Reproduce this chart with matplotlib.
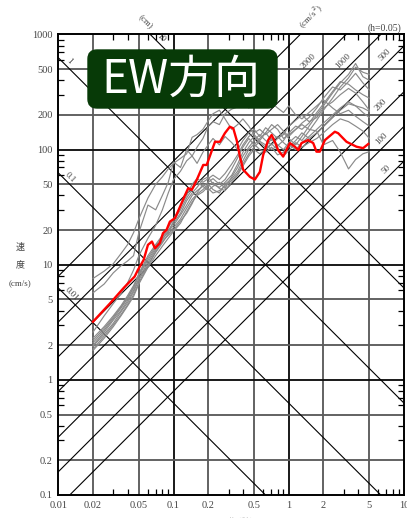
import numpy as np
import matplotlib
matplotlib.use("Agg")
import matplotlib.pyplot as plt
from matplotlib.patches import FancyBboxPatch
from matplotlib.transforms import IdentityTransform

# ---- data -------------------------------------------------------------
# observed record (red), period [s] / pseudo velocity [cm/s]
red_period = [0.020, 0.028, 0.037, 0.046, 0.049, 0.055, 0.060, 0.065, 0.069, 0.076,
              0.081, 0.087, 0.093, 0.103, 0.114, 0.126, 0.134, 0.144, 0.159, 0.181,
              0.194, 0.221, 0.229, 0.253, 0.279, 0.308, 0.330, 0.353, 0.377, 0.402,
              0.460, 0.508, 0.561, 0.600, 0.663, 0.710, 0.757, 0.809, 0.894, 1.023,
              1.13, 1.21, 1.29, 1.47, 1.63, 1.74, 1.86, 2.06, 2.51, 2.68,
              3.17, 3.87, 4.42, 4.90]
red_sv = [3.2, 4.6, 6.3, 7.9, 9.0, 11.0, 14.9, 15.9, 13.9, 15.4,
          18.8, 20.1, 23.7, 25.4, 32.0, 40.4, 46.2, 44.7, 54.6, 73.6,
          73.6, 106, 117, 117, 139, 158, 153, 121, 87, 67,
          58, 55, 64, 90, 121, 134, 117, 99, 87, 114,
          106, 99, 114, 121, 114, 96, 96, 121, 143, 139,
          117, 106, 103, 112]

# comparison records (gray), common period grid
periods = [0.02, 0.025, 0.03, 0.035, 0.04, 0.045, 0.05, 0.06, 0.07, 0.08,
           0.09, 0.10, 0.115, 0.13, 0.145, 0.16, 0.18, 0.20, 0.22, 0.25,
           0.28, 0.32, 0.36, 0.40, 0.45, 0.50, 0.56, 0.63, 0.71, 0.80,
           0.90, 1.0, 1.15, 1.3, 1.5, 1.75, 2.0, 2.4, 2.8, 3.3,
           3.8, 4.4, 5.0]
sv_u1 = [7.6, 8.8, 10.2, 12.5, 15, 19, 25, 38, 50, 58,
         68, 76, 84, 92, 128, 135, 150, 178, 205, 220,
         185, 150, 165, 185, 160, 135, 120, 140, 165, 150,
         125, 135, 150, 165, 150, 145, 110, 120, 95, 68,
         82, 92, 96]
sv_u2 = [5.7, 6.8, 8.5, 9.8, 10.8, 12, 19, 33, 30, 40,
         52, 78, 70, 100, 88, 105, 125, 160, 175, 165,
         205, 225, 235, 260, 230, 250, 270, 240, 255, 230,
         210, 240, 200, 185, 210, 240, 270, 230, 205, 220,
         195, 175, 160]
sv_m1 = [2.6, 3.6, 4.6, 5.6, 7, 9, 12, 17, 22, 30,
         42, 55, 65, 80, 88, 76, 95, 110, 125, 110,
         130, 115, 100, 120, 140, 150, 130, 155, 140, 125,
         135, 160, 180, 200, 175, 190, 230, 260, 300, 340,
         310, 260, 220]
sv_l1 = [2.3, 2.9, 3.6, 4.4, 5.4, 6.6, 8.2, 11.5, 14.5, 17.5,
         20, 23, 28, 36, 42, 47, 55, 58, 50, 47,
         52, 60, 75, 95, 115, 130, 115, 105, 125, 110,
         100, 115, 130, 120, 145, 180, 220, 280, 350, 420,
         520, 470, 450]
sv_l2 = [2.0, 2.6, 3.3, 4.0, 4.9, 6.0, 7.6, 10.5, 13.5, 16.5,
         19.5, 22, 27, 33, 40, 44, 48, 44, 48, 52,
         46, 58, 70, 88, 105, 120, 135, 120, 110, 125,
         140, 125, 110, 130, 160, 200, 240, 310, 380, 450,
         560, 430, 400]
sv_l3 = [1.85, 2.4, 3.0, 3.7, 4.5, 5.5, 7.0, 9.8, 12.8, 15.5,
         18.5, 21, 25, 31, 37, 41, 45, 50, 45, 42,
         50, 56, 65, 80, 100, 112, 100, 95, 105, 90,
         95, 110, 100, 115, 130, 150, 170, 200, 230, 260,
         240, 210, 190]
sv_l4 = [2.1, 2.7, 3.4, 4.2, 5.1, 6.3, 8.0, 11, 14, 17,
         19, 24, 30, 38, 45, 52, 48, 52, 56, 50,
         55, 68, 85, 105, 125, 110, 125, 140, 120, 130,
         115, 105, 120, 140, 125, 140, 160, 190, 220, 250,
         240, 230, 215]
sv_l5 = [1.95, 2.5, 3.1, 3.9, 4.7, 5.8, 7.4, 10, 13, 16,
         18, 20, 24, 28, 34, 42, 50, 46, 42, 44,
         48, 54, 62, 75, 92, 105, 118, 110, 100, 108,
         120, 140, 160, 150, 170, 210, 250, 320, 390, 370,
         330, 300, 280]
sv_l6 = [2.2, 2.8, 3.5, 4.3, 5.2, 6.4, 8.4, 12, 15, 18,
         21, 25, 32, 40, 50, 56, 52, 56, 60, 55,
         62, 75, 90, 110, 130, 140, 150, 135, 150, 165,
         145, 130, 150, 170, 190, 230, 280, 350, 330, 390,
         460, 380, 330]
sv_l7 = [1.8, 2.3, 2.9, 3.6, 4.4, 5.3, 6.8, 9.5, 12, 14.5,
         17, 19.5, 23, 29, 35, 40, 43, 48, 52, 46,
         44, 52, 60, 72, 88, 100, 92, 100, 112, 100,
         88, 98, 115, 105, 115, 125, 140, 165, 185, 175,
         160, 145, 125]

# tripartite reference lines
disp_levels = [0.01, 0.1, 1, 10]                     # cm
acc_levels = [50, 100, 200, 500, 1000, 2000, 5000]   # cm/s^2

x_major = [0.01, 0.02, 0.05, 0.1, 0.2, 0.5, 1, 2, 5, 10]
x_major_labels = ["0.01", "0.02", "0.05", "0.1", "0.2", "0.5", "1", "2", "5", "10"]
y_major = [0.1, 0.2, 0.5, 1, 2, 5, 10, 20, 50, 100, 200, 500, 1000]
y_major_labels = ["0.1", "0.2", "0.5", "1", "2", "5", "10", "20", "50", "100", "200", "500", "1000"]

# ---- figure -----------------------------------------------------------
W, H = 407, 518
fig = plt.figure(figsize=(W / 100, H / 100), dpi=100)
ax = fig.add_axes([58.3 / W, 1 - 495 / H, (404 - 58.3) / W, (495 - 34.5) / H])
ax.set_xscale("log")
ax.set_yscale("log")
ax.set_xlim(0.01, 10)
ax.set_ylim(0.1, 1000)

serif = "Liberation Serif"
lab_col = "#444444"

# grid
for v in x_major[1:-1]:
    dec = abs(np.log10(v) - round(np.log10(v))) < 1e-6
    ax.axvline(v, color="#111111" if dec else "#5c5c5c", lw=1.35, zorder=1)
for v in y_major[1:-1]:
    dec = abs(np.log10(v) - round(np.log10(v))) < 1e-6
    ax.axhline(v, color="#111111" if dec else "#5c5c5c", lw=1.35, zorder=1)

# displacement and acceleration lines
tt = np.array([0.001, 100.0])
for d in disp_levels:
    ax.plot(tt, 2 * np.pi * d / tt, color="black", lw=0.8, zorder=2)
for a in acc_levels:
    ax.plot(tt, a * tt / (2 * np.pi), color="black", lw=0.8, zorder=2)

# line labels
disp_label_t = {0.01: 0.0122, 0.1: 0.0118, 1: 0.0115, 10: 0.072}
for d in disp_levels:
    t = disp_label_t[d]
    ax.annotate(f"{d:g}", xy=(t, 2 * np.pi * d / t), xytext=(3.5, 3.5),
                textcoords="offset pixels", rotation=-45, ha="center", va="center",
                fontsize=6.5, family=serif, color=lab_col, zorder=3,
                annotation_clip=False)
acc_label_t = {50: 7.7, 100: 7.0, 200: 7.0, 500: 7.6, 1000: 3.3, 2000: 1.65, 5000: 0.60}
for a in acc_levels:
    t = acc_label_t[a]
    ax.annotate(f"{a:g}", xy=(t, a * t / (2 * np.pi)), xytext=(-5, 5),
                textcoords="offset pixels", rotation=45, ha="center", va="center",
                fontsize=6.5, family=serif, color=lab_col, zorder=3,
                annotation_clip=False)

# spectra
for sv in [sv_u1, sv_u2, sv_m1, sv_l1, sv_l2, sv_l3, sv_l4, sv_l5, sv_l6, sv_l7]:
    ax.plot(periods, sv, color="#8a8a8a", lw=0.85, zorder=4)
ax.plot(red_period, red_sv, color="#ff0000", lw=1.7, zorder=5)

# ticks
ax.set_xticks(x_major)
ax.set_xticklabels(x_major_labels)
ax.set_yticks(y_major)
ax.set_yticklabels(y_major_labels)
minor = [m * 10.0 ** e for e in range(-3, 4) for m in (3, 4, 6, 7, 8, 9)]
ax.set_xticks([v for v in minor if 0.01 < v < 10], minor=True)
ax.set_yticks([v for v in minor if 0.1 < v < 1000], minor=True)
ax.xaxis.set_minor_formatter(matplotlib.ticker.NullFormatter())
ax.yaxis.set_minor_formatter(matplotlib.ticker.NullFormatter())
ax.tick_params(which="both", direction="in", top=True, right=True, color="black")
ax.tick_params(which="major", length=0, pad=4, labelsize=7.5, labelcolor=lab_col)
ax.tick_params(which="minor", length=4, width=0.9)
for lbl in ax.get_xticklabels() + ax.get_yticklabels():
    lbl.set_family(serif)
for s in ax.spines.values():
    s.set_linewidth(1.4)
    s.set_zorder(6)

# axis captions
cjk = ["Noto Sans CJK JP", "DejaVu Sans"]
fig.text(20 / W, 1 - 247 / H, "速", ha="center", va="center", fontsize=6.5, family=cjk, color=lab_col)
fig.text(20 / W, 1 - 265 / H, "度", ha="center", va="center", fontsize=6.5, family=cjk, color=lab_col)
fig.text(20 / W, 1 - 283 / H, "(cm/s)", ha="center", va="center", fontsize=6.5, family=serif, color=lab_col)
fig.text(237 / W, 1 - 521 / H, "周期(秒)", ha="center", va="center", fontsize=6.5, family=cjk, color="#bbbbbb")
fig.text(145 / W, 1 - 22 / H, "(cm)", ha="center", va="center", rotation=-45, fontsize=6.5, family=serif, color=lab_col)
fig.text(311 / W, 1 - 17 / H, "(cm/s$^2$)", ha="center", va="center", rotation=45, fontsize=6.5, family=serif, color=lab_col)
fig.text(385 / W, 1 - 28 / H, "(h=0.05)", ha="center", va="center", fontsize=7, family=serif, color=lab_col)

# title badge
badge = FancyBboxPatch((88, H - 108), 189, 58, boxstyle="round,pad=0,rounding_size=9",
                       transform=IdentityTransform(), facecolor="#073a07",
                       edgecolor="#073a07", lw=1, zorder=10)
fig.add_artist(badge)
fig.text(181 / W, 1 - 79 / H, "EW方向", ha="center", va="center", fontsize=33,
         family=cjk, color="white", zorder=11)

fig.savefig("out.png", dpi=100)
